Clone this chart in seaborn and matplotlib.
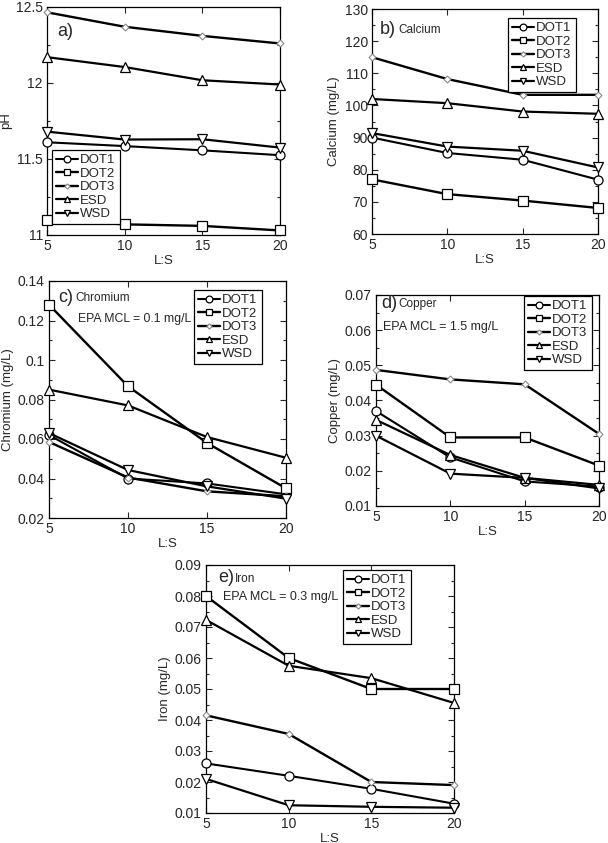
import numpy as np
import matplotlib
matplotlib.use("Agg")
import matplotlib.pyplot as plt
from matplotlib.ticker import AutoMinorLocator, FuncFormatter, MultipleLocator
import seaborn as sns

#-----------------------------------------
# datos
#-----------------------------------------
ls_ratio = [5, 10, 15, 20]
series = ['DOT1', 'DOT2', 'DOT3', 'ESD', 'WSD']

ph_dot1 = [11.61, 11.585, 11.557, 11.525]
ph_dot2 = [11.10, 11.07, 11.06, 11.03]
ph_dot3 = [12.465, 12.37, 12.31, 12.26]
ph_esd = [12.17, 12.105, 12.018, 11.99]
ph_wsd = [11.68, 11.628, 11.63, 11.575]

ca_dot1 = [90.0, 85.2, 83.1, 76.9]
ca_dot2 = [77.0, 72.4, 70.4, 68.1]
ca_dot3 = [115.0, 108.2, 103.3, 103.3]
ca_esd = [102.0, 100.7, 98.1, 97.4]
ca_wsd = [91.4, 87.2, 85.9, 80.7]

cr_dot1 = [0.062, 0.040, 0.0375, 0.032]
cr_dot2 = [0.128, 0.0867, 0.058, 0.035]
cr_dot3 = [0.0585, 0.0405, 0.0335, 0.031]
cr_esd = [0.085, 0.077, 0.061, 0.0505]
cr_wsd = [0.063, 0.0443, 0.036, 0.0298]

cu_dot1 = [0.037, 0.0238, 0.017, 0.0155]
cu_dot2 = [0.0445, 0.0295, 0.0295, 0.0215]
cu_dot3 = [0.0487, 0.046, 0.0446, 0.0305]
cu_esd = [0.0345, 0.0245, 0.018, 0.016]
cu_wsd = [0.030, 0.0192, 0.018, 0.015]

fe_dot1 = [0.026, 0.022, 0.0178, 0.013]
fe_dot2 = [0.080, 0.060, 0.050, 0.050]
fe_dot3 = [0.0415, 0.0355, 0.0200, 0.019]
fe_esd = [0.0723, 0.0575, 0.0535, 0.0455]
fe_wsd = [0.021, 0.0125, 0.012, 0.0117]

#-----------------------------------------
# estilo
#-----------------------------------------
sns.set_style("ticks")
plt.rcParams['font.family'] = ['Liberation Sans', 'DejaVu Sans']

W, H = 608, 843
fig = plt.figure(figsize=(W / 100, H / 100), dpi=100)

estilos = {
    'DOT1': dict(marker='o', ms=6.5, mfc='white', mec='black', mew=0.9, lw=1.5),
    'DOT2': dict(marker='s', ms=6.5, mfc='white', mec='black', mew=0.9, lw=1.7),
    'DOT3': dict(marker='D', ms=3.5, mfc='white', mec='#888888', mew=0.8, lw=1.7),
    'ESD': dict(marker='^', ms=6.5, mfc='white', mec='black', mew=0.9, lw=1.6),
    'WSD': dict(marker='v', ms=6.5, mfc='white', mec='black', mew=0.9, lw=1.6),
}


def px_axes(left, top, right, bottom):
    return fig.add_axes([left / W, 1 - bottom / H, (right - left) / W, (bottom - top) / H])


def px_text(x, y, s, size, **kw):
    fig.text(x / W, 1 - y / H, s, fontsize=size, va='center', ha='left', **kw)


def panel(ax, datos, ylim, ystep, ylabel, leg_xy):
    for nombre, vals in zip(series, datos):
        sns.lineplot(x=ls_ratio, y=vals, ax=ax, color='black', label=nombre,
                     clip_on=False, zorder=3, **estilos[nombre])
    ax.set_xlim(5, 20)
    ax.set_ylim(*ylim)
    ax.xaxis.set_major_locator(MultipleLocator(5))
    ax.yaxis.set_major_locator(MultipleLocator(ystep))
    ax.yaxis.set_minor_locator(AutoMinorLocator(2))
    ax.yaxis.set_major_formatter(FuncFormatter(lambda v, p: '%g' % round(v, 6)))
    ax.tick_params(which='both', direction='in', top=True, right=True, labelsize=10,
                   width=0.8, pad=3)
    ax.tick_params(which='major', length=4)
    ax.tick_params(which='minor', length=2)
    for s in ax.spines.values():
        s.set_linewidth(0.9)
        s.set_color('black')
    ax.set_xlabel('L:S', fontsize=9.5, labelpad=1)
    ax.set_ylabel(ylabel, fontsize=9.5, labelpad=3)
    leg = ax.legend(loc='upper left', bbox_to_anchor=(leg_xy[0] / W, 1 - leg_xy[1] / H),
                    bbox_transform=fig.transFigure, fontsize=9.5, frameon=True,
                    fancybox=False, edgecolor='black', framealpha=1, markerscale=0.75,
                    handlelength=1.7, handletextpad=0.15, labelspacing=0.1,
                    borderpad=0.3, borderaxespad=0)
    leg.get_frame().set_linewidth(0.9)


#-----------------------------------------
# a) pH
#-----------------------------------------
ax_a = px_axes(47, 7, 280, 235)
panel(ax_a, [ph_dot1, ph_dot2, ph_dot3, ph_esd, ph_wsd], (11, 12.5), 0.5, 'pH', (52, 150))
px_text(57, 32, 'a)', 13)

#-----------------------------------------
# b) Calcio
#-----------------------------------------
ax_b = px_axes(372, 9, 598, 234)
panel(ax_b, [ca_dot1, ca_dot2, ca_dot3, ca_esd, ca_wsd], (60, 130), 10, 'Calcium (mg/L)', (508, 18))
px_text(380, 29, 'b)', 13)
px_text(398, 30, 'Calcium', 8.5)

#-----------------------------------------
# c) Cromo
#-----------------------------------------
ax_c = px_axes(49, 281, 286, 518)
panel(ax_c, [cr_dot1, cr_dot2, cr_dot3, cr_esd, cr_wsd], (0.02, 0.14), 0.02, 'Chromium (mg/L)', (194, 290))
px_text(58, 297, 'c)', 13)
px_text(75, 298, 'Chromium', 8.5)
px_text(78, 319, 'EPA MCL = 0.1 mg/L', 8.8)

#-----------------------------------------
# d) Cobre
#-----------------------------------------
ax_d = px_axes(376, 295, 599, 506)
panel(ax_d, [cu_dot1, cu_dot2, cu_dot3, cu_esd, cu_wsd], (0.01, 0.07), 0.01, 'Copper (mg/L)', (524, 296))
px_text(381, 303, 'd)', 13)
px_text(398, 304, 'Copper', 8.5)
px_text(383, 327, 'EPA MCL = 1.5 mg/L', 9)

#-----------------------------------------
# e) Hierro
#-----------------------------------------
ax_e = px_axes(206, 565, 454, 813)
panel(ax_e, [fe_dot1, fe_dot2, fe_dot3, fe_esd, fe_wsd], (0.01, 0.09), 0.01, 'Iron (mg/L)', (343, 570))
px_text(218, 578, 'e)', 13)
px_text(235, 579, 'Iron', 8.5)
px_text(223, 597, 'EPA MCL = 0.3 mg/L', 9)

plt.savefig('out.png', dpi=100)
